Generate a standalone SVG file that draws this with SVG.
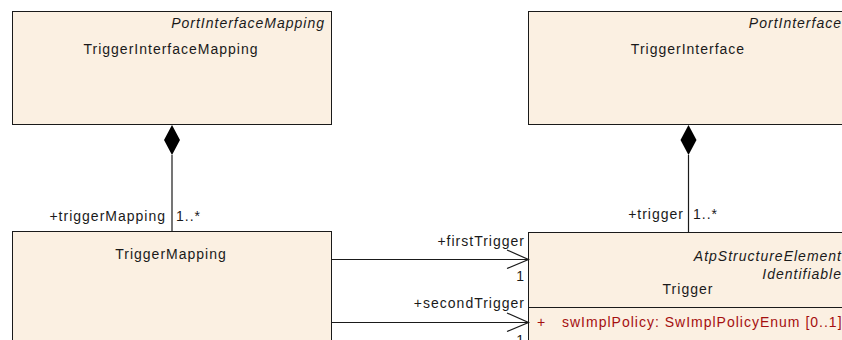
<svg xmlns="http://www.w3.org/2000/svg" width="842" height="340" viewBox="0 0 842 340">
<style>
.box{fill:#FBF0E2;stroke:#1a1a1a;stroke-width:1}
.t{font-family:"Liberation Sans",Arial,sans-serif;font-size:14px;letter-spacing:1px;fill:#1a1a1a}
.it{font-style:italic}
.lbl{font-family:"Liberation Sans",Arial,sans-serif;font-size:14px;letter-spacing:1px;fill:#1a1a1a}
.attr{font-family:"Liberation Sans",Arial,sans-serif;font-size:14px;letter-spacing:1px;fill:#a50f0f}
.ln{stroke:#1a1a1a;stroke-width:1.2;fill:none}
</style>
<rect width="842" height="340" fill="#ffffff"/>
<g id="TriggerInterfaceMapping">
<rect class="box" x="12.5" y="11.5" width="319" height="113"/>
<text class="t it" x="325" y="28" text-anchor="end">PortInterfaceMapping</text>
<text class="t" x="171" y="54" text-anchor="middle">TriggerInterfaceMapping</text>
</g>
<g id="TriggerInterface">
<rect class="box" x="528.5" y="11.5" width="320" height="113"/>
<text class="t it" x="842" y="28" text-anchor="end">PortInterface</text>
<text class="t" x="688" y="54" text-anchor="middle">TriggerInterface</text>
</g>
<g id="TriggerMapping">
<rect class="box" x="12.5" y="231.5" width="319" height="120"/>
<text class="t" x="171" y="259" text-anchor="middle">TriggerMapping</text>
</g>
<g id="Trigger">
<rect class="box" x="528.5" y="232.5" width="320" height="120"/>
<text class="t it" x="842" y="261" text-anchor="end">AtpStructureElement</text>
<text class="t it" x="842" y="279" text-anchor="end">Identifiable</text>
<text class="t" x="688" y="294" text-anchor="middle">Trigger</text>
<line x1="528.5" y1="307.5" x2="848.5" y2="307.5" stroke="#1a1a1a" stroke-width="1"/>
<text class="attr" x="537" y="327">+</text>
<text class="attr" x="562" y="327">swImplPolicy: SwImplPolicyEnum [0..1]</text>
</g>
<g id="connectors">
<line class="ln" x1="172" y1="155" x2="172" y2="231.5"/>
<polygon points="172,125 180,140 172,155 164,140" fill="#000"/>
<text class="lbl" x="166" y="221" text-anchor="end">+triggerMapping</text>
<text class="lbl" x="176" y="221">1..*</text>
<line class="ln" x1="688.5" y1="155" x2="688.5" y2="232.5"/>
<polygon points="688.5,125 696.5,140 688.5,155 680.5,140" fill="#000"/>
<text class="lbl" x="684" y="219" text-anchor="end">+trigger</text>
<text class="lbl" x="693" y="219">1..*</text>
<line class="ln" x1="331.5" y1="259.5" x2="528.5" y2="259.5"/>
<polyline class="ln" points="507,250 528.5,259.5 507,268.5"/>
<text class="lbl" x="525" y="246" text-anchor="end">+firstTrigger</text>
<text class="lbl" x="525" y="281" text-anchor="end">1</text>
<line class="ln" x1="331.5" y1="322.5" x2="528.5" y2="322.5"/>
<polyline class="ln" points="507,313 528.5,322.5 507,331.5"/>
<text class="lbl" x="525" y="308" text-anchor="end">+secondTrigger</text>
<text class="lbl" x="525" y="345" text-anchor="end">1</text>
</g>
</svg>
